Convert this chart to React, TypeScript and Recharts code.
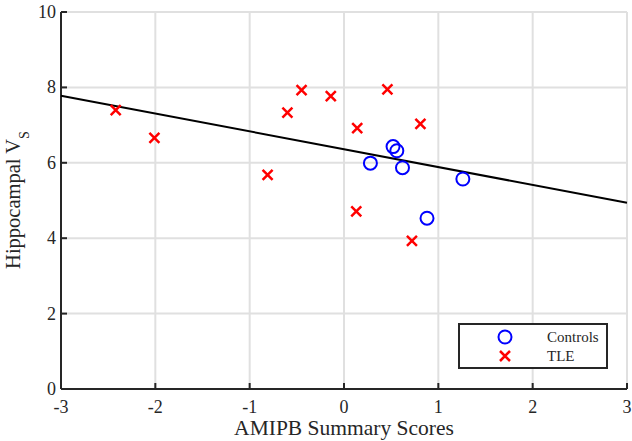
import React from "react";
import { ScatterChart, Scatter, XAxis, YAxis, CartesianGrid } from "recharts";

// axis ticks
const xTicks = [-3, -2, -1, 0, 1, 2, 3];
const yTicks = [0, 2, 4, 6, 8, 10];

// Controls (blue circles)
const controlsX = [0.52, 0.56, 0.28, 0.62, 1.26, 0.88];
const controlsY = [6.43, 6.32, 5.99, 5.87, 5.57, 4.53];

// TLE (red crosses)
const tleX = [-2.42, -2.01, -0.81, -0.6, -0.45, -0.14, 0.46, 0.14, 0.81, 0.13, 0.72];
const tleY = [7.4, 6.66, 5.68, 7.33, 7.93, 7.77, 7.95, 6.92, 7.03, 4.71, 3.93];

// regression line end points
const fitX = [-3, 3];
const fitY = [7.78, 4.94];

const zip = (xs: number[], ys: number[]) => xs.map((x, i) => ({ x, y: ys[i] }));
const controls = zip(controlsX, controlsY);
const tle = zip(tleX, tleY);
const fit = zip(fitX, fitY);

const FONT = "Liberation Serif";
const AXIS = "#262626";

// plot box edges (from chart margins + axis sizes)
const LEFT = 61;
const RIGHT = 627;
const TOP = 12;
const BOTTOM = 389;
const TICK = 6;

const CircleMark = (props: any) => (
  <circle cx={props.cx} cy={props.cy} r={6.5} fill="none" stroke="#0000ff" strokeWidth={2} />
);

const CrossMark = (props: any) => {
  const { cx, cy } = props;
  const s = 5;
  return (
    <path
      d={`M${cx - s},${cy - s}L${cx + s},${cy + s}M${cx - s},${cy + s}L${cx + s},${cy - s}`}
      stroke="#ff0000"
      strokeWidth={2.5}
      fill="none"
    />
  );
};

// inward ticks, matlab style
const BottomTick = (props: any) => {
  const { x, payload } = props;
  return (
    <g>
      <line x1={x} x2={x} y1={BOTTOM} y2={BOTTOM - TICK} stroke={AXIS} strokeWidth={2} />
      <text x={x} y={413} textAnchor="middle" fontFamily={FONT} fontSize={18} fill={AXIS}>
        {payload.value}
      </text>
    </g>
  );
};

const LeftTick = (props: any) => {
  const { y, payload } = props;
  return (
    <g>
      <line x1={LEFT} x2={LEFT + TICK} y1={y} y2={y} stroke={AXIS} strokeWidth={2} />
      <text x={56} y={y + 6} textAnchor="end" fontFamily={FONT} fontSize={18} fill={AXIS}>
        {payload.value}
      </text>
    </g>
  );
};

const TopTick = (props: any) => (
  <line x1={props.x} x2={props.x} y1={TOP} y2={TOP + TICK} stroke={AXIS} strokeWidth={2} />
);

const RightTick = (props: any) => (
  <line x1={RIGHT} x2={RIGHT - TICK} y1={props.y} y2={props.y} stroke={AXIS} strokeWidth={2} />
);

const YTitle = () => (
  <text
    x={20}
    y={200}
    transform="rotate(-90 20 200)"
    textAnchor="middle"
    fontFamily={FONT}
    fontSize={20.5}
    fill={AXIS}
  >
    Hippocampal V
    <tspan fontSize={14} dy={9}>
      S
    </tspan>
  </text>
);

const XTitle = () => (
  <text x={344} y={435} textAnchor="middle" fontFamily={FONT} fontSize={21.5} fill={AXIS}>
    AMIPB Summary Scores
  </text>
);

const axisLine = { stroke: AXIS, strokeWidth: 2 };

const App: React.FC = () => {
  return (
    <div style={{ position: "absolute", left: 0, top: 0, width: 632, height: 441, background: "#fff" }}>
      <ScatterChart width={632} height={441} margin={{ top: 12, right: 5, bottom: 12, left: 11 }}>
        <CartesianGrid stroke="#e0e0e0" strokeWidth={2} />
        <XAxis
          type="number"
          dataKey="x"
          domain={[-3, 3]}
          ticks={xTicks}
          height={40}
          tick={<BottomTick />}
          tickLine={false}
          axisLine={axisLine}
          label={<XTitle />}
        />
        <XAxis
          xAxisId="top"
          orientation="top"
          type="number"
          dataKey="x"
          domain={[-3, 3]}
          ticks={xTicks}
          height={0}
          tick={<TopTick />}
          tickLine={false}
          axisLine={axisLine}
        />
        <YAxis
          type="number"
          dataKey="y"
          domain={[0, 10]}
          ticks={yTicks}
          width={50}
          tick={<LeftTick />}
          tickLine={false}
          axisLine={axisLine}
          label={<YTitle />}
        />
        <YAxis
          yAxisId="right"
          orientation="right"
          type="number"
          dataKey="y"
          domain={[0, 10]}
          ticks={yTicks}
          width={0}
          tick={<RightTick />}
          tickLine={false}
          axisLine={axisLine}
        />
        {/* fit line drawn on the mirror axes (same domains) so the box gets drawn */}
        <Scatter
          name="fit"
          data={fit}
          xAxisId="top"
          yAxisId="right"
          line={{ stroke: "#000", strokeWidth: 2 }}
          shape={() => <g />}
          legendType="none"
          isAnimationActive={false}
        />
        <Scatter name="Controls" data={controls} shape={<CircleMark />} isAnimationActive={false} />
        <Scatter name="TLE" data={tle} shape={<CrossMark />} isAnimationActive={false} />
      </ScatterChart>
      <div
        style={{
          position: "absolute",
          left: 458,
          top: 323,
          width: 146,
          height: 42,
          border: `2px solid ${AXIS}`,
          background: "#fff",
          fontFamily: "'Liberation Serif', serif",
          fontSize: 15,
          color: AXIS,
        }}
      >
        {[
          { name: "Controls", mark: <circle cx={9} cy={9} r={6.5} fill="none" stroke="#0000ff" strokeWidth={2} /> },
          { name: "TLE", mark: <path d="M4,4L14,14M4,14L14,4" stroke="#ff0000" strokeWidth={2.5} /> },
        ].map((item, i) => (
          <div key={item.name} style={{ position: "absolute", left: 0, top: 3 + i * 19, height: 18, width: "100%" }}>
            <svg width={18} height={18} style={{ position: "absolute", left: 36, top: 0 }}>
              {item.mark}
            </svg>
            <span style={{ position: "absolute", left: 87, top: 0, lineHeight: "18px" }}>{item.name}</span>
          </div>
        ))}
      </div>
    </div>
  );
};

export default App;
